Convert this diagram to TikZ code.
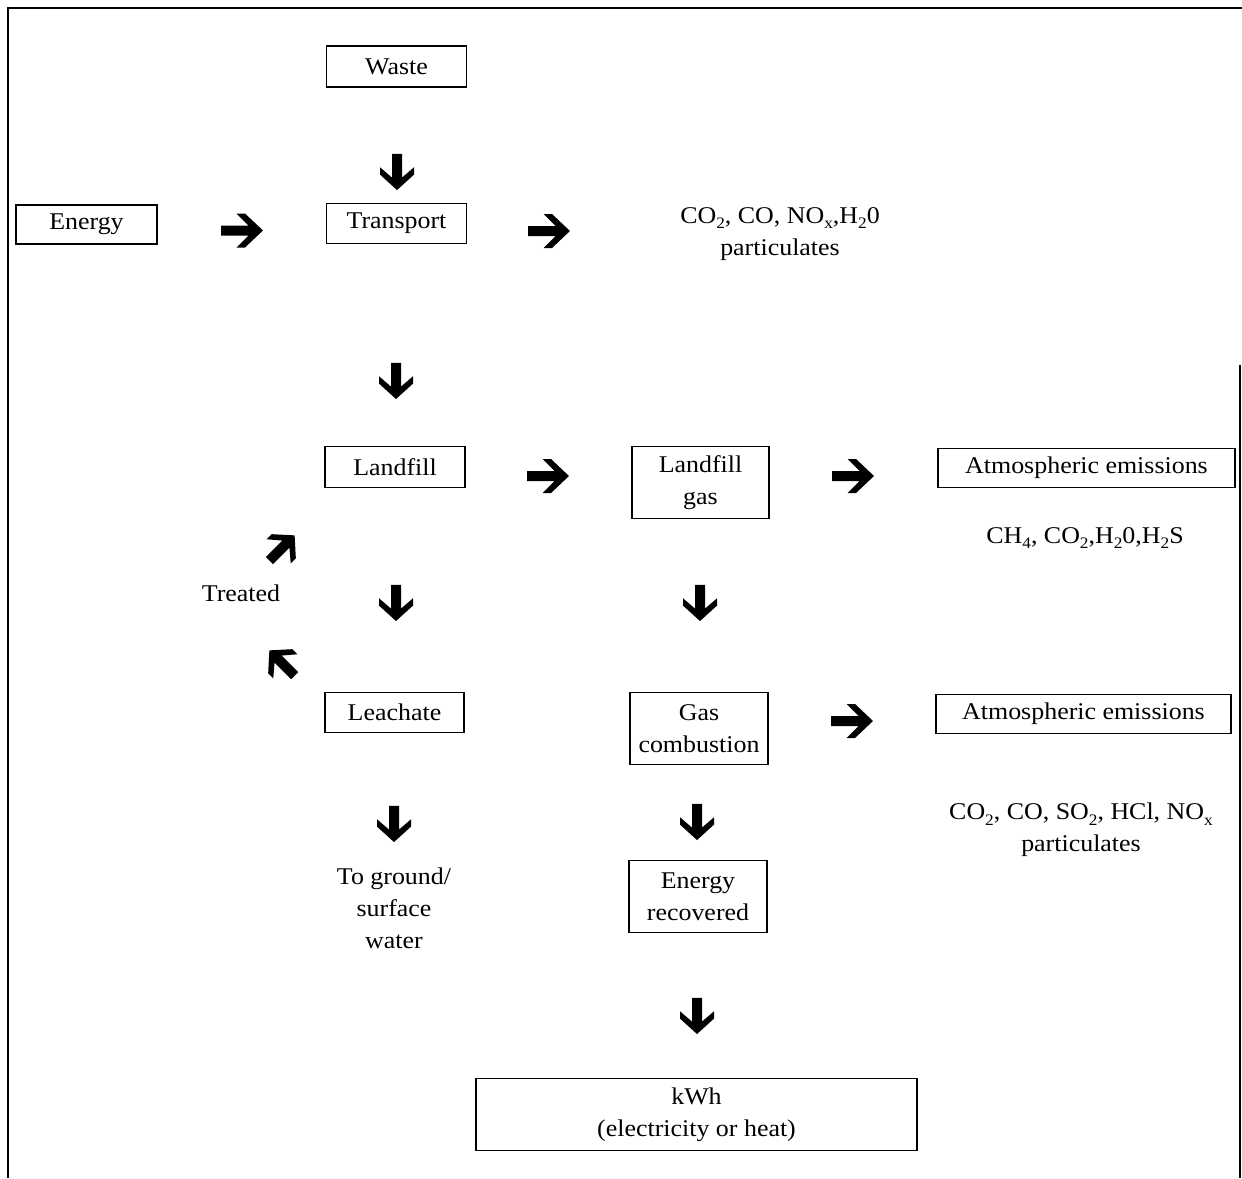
\documentclass[tikz,border=0pt]{standalone}
\usepackage{fontspec}
\setmainfont[FakeStretch=1.08]{Liberation Serif}
\newcommand\mysbs[1]{\raisebox{-0.5ex}{\fontsize{16}{16}\selectfont #1}}
\begin{document}
\begin{tikzpicture}[x=1pt,y=-1pt,
  font=\fontsize{24}{32}\selectfont,
  box/.style={draw, line width=1.4pt, inner sep=0pt, align=center},
  lbl/.style={align=center, inner sep=0pt},
  frame/.style={line width=1.5pt},
  pics/blockarrow/.style={code={
    \fill[black] (-21,-5) -- (6.5,-5) -- (-5.5,-17) -- (3,-17) -- (21,0)
      -- (3,17) -- (-5.5,17) -- (6.5,5) -- (-21,5) -- cycle;}},
  rightarr/.style={},
  downarr/.style={rotate=-90, xscale=0.86}]
\useasboundingbox (0,0) rectangle (1242,1178);
% frame
\coordinate (f1) at (8,8);
\coordinate (f2) at (1242,8);
\coordinate (f3) at (8,1178);
\coordinate (f4) at (1240,365);
\coordinate (f5) at (1240,1178);
\draw[frame] (f3) -- (f1) -- (f2);
\draw[frame] (f4) -- (f5);
% boxes
\node[box, minimum width=140, minimum height=41] (waste) at (396.5,66.5) {Waste};
\node[box, minimum width=141, minimum height=39] (energy) at (86.5,224.5) {Energy};
\node[box, minimum width=140, minimum height=40] (transport) at (396.5,223.5) {Transport};
\node[box, minimum width=140, minimum height=41] (landfill) at (395,467) {Landfill};
\node[box, minimum width=137, minimum height=72] (lgas) at (700.5,482.5) {Landfill\\gas};
\node[box, minimum width=297, minimum height=39] (atm1) at (1086.5,468) {Atmospheric emissions};
\node[box, minimum width=139, minimum height=40] (leachate) at (394.5,712.5) {Leachate};
\node[box, minimum width=138, minimum height=72] (gascomb) at (699,728.5) {Gas\\combustion};
\node[box, minimum width=295, minimum height=39] (atm2) at (1083.5,714) {Atmospheric emissions};
\node[box, minimum width=138, minimum height=72] (erec) at (698,896.5) {Energy\\recovered};
\node[box, minimum width=441, minimum height=72] (kwh) at (696.5,1114.5) {kWh\\(electricity or heat)};
% labels
\node[lbl] (em1) at (780,234) {CO\mysbs{2}, CO, NO\mysbs{x},H\mysbs{2}0\\particulates};
\node[lbl] (em2) at (1085,538) {CH\mysbs{4}, CO\mysbs{2},H\mysbs{2}0,H\mysbs{2}S};
\node[lbl] (em3) at (1081,830) {CO\mysbs{2}, CO, SO\mysbs{2}, HCl, NO\mysbs{x}\\particulates};
\node[lbl] (treated) at (241,593) {Treated};
\node[lbl] (ground) at (394,908) {To ground/\\surface\\water};
% block arrows
\pic[downarr] at (397,172) {blockarrow};
\pic[downarr] at (396,381) {blockarrow};
\pic[downarr] at (396,603) {blockarrow};
\pic[downarr] at (700,603) {blockarrow};
\pic[downarr] at (394,824) {blockarrow};
\pic[downarr] at (697,822) {blockarrow};
\pic[downarr] at (697,1016) {blockarrow};
\pic[rightarr] at (242,230.5) {blockarrow};
\pic[rightarr] at (549,231) {blockarrow};
\pic[rightarr] at (548,476) {blockarrow};
\pic[rightarr] at (853,476) {blockarrow};
\pic[rightarr] at (852,721) {blockarrow};
\pic[rotate=45, xscale=0.85] at (282,548) {blockarrow};
\pic[rotate=135, xscale=0.85] at (282,663) {blockarrow};
\end{tikzpicture}
\end{document}
